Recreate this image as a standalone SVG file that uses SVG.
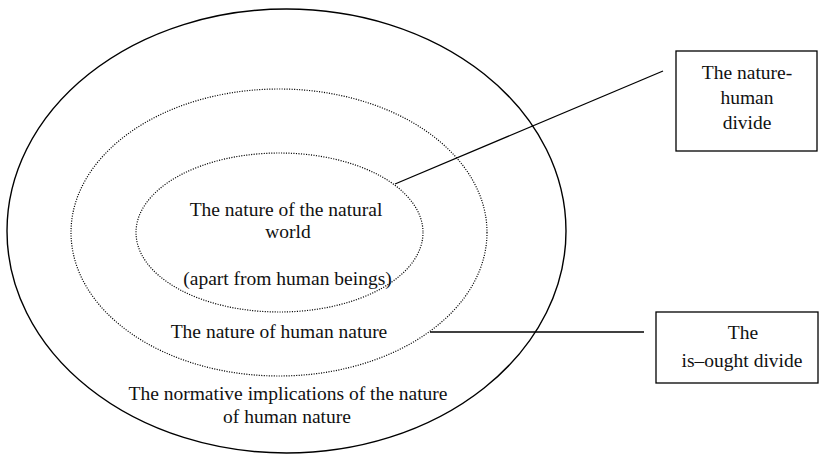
<svg xmlns="http://www.w3.org/2000/svg" width="820" height="455" viewBox="0 0 820 455">
<style>
  .solid { fill: none; stroke: #000; stroke-width: 1.4; }
  .dotted { fill: none; stroke: #000; stroke-width: 1.2; stroke-dasharray: 1.1 1.4; }
  .box { fill: #fff; stroke: #000; stroke-width: 1.3; }
  .conn { stroke: #000; stroke-width: 1.3; fill: none; }
  text { font-family: "Liberation Serif", "Times New Roman", serif; font-size: 19.5px; fill: #111; text-anchor: middle; }
</style>
<rect width="820" height="455" fill="#fff"/>
<g id="outer-ellipse">
  <ellipse class="solid" cx="286.5" cy="231" rx="279.5" ry="222"/>
  <text x="288" y="400">The normative implications of the nature</text>
  <text x="287" y="423">of human nature</text>
</g>
<g id="middle-ellipse">
  <ellipse class="dotted" cx="279" cy="232.5" rx="208" ry="143.5"/>
  <text x="279" y="338">The nature of human nature</text>
</g>
<g id="inner-ellipse">
  <ellipse class="dotted" cx="279.5" cy="232.5" rx="143.5" ry="79.5"/>
  <text x="286" y="216">The nature of the natural</text>
  <text x="288" y="238">world</text>
  <text x="287.5" y="285">(apart from human beings)</text>
</g>
<g id="connectors">
  <line class="conn" x1="395" y1="184" x2="663" y2="71"/>
  <line class="conn" x1="430" y1="332" x2="644" y2="332"/>
</g>
<g id="nature-human-divide">
  <rect class="box" x="676" y="51" width="141" height="100"/>
  <text x="747" y="79">The nature-</text>
  <text x="747" y="104">human</text>
  <text x="747" y="129">divide</text>
</g>
<g id="is-ought-divide">
  <rect class="box" x="656" y="312" width="162" height="71"/>
  <text x="743" y="339">The</text>
  <text x="742" y="367">is–ought divide</text>
</g>
</svg>
